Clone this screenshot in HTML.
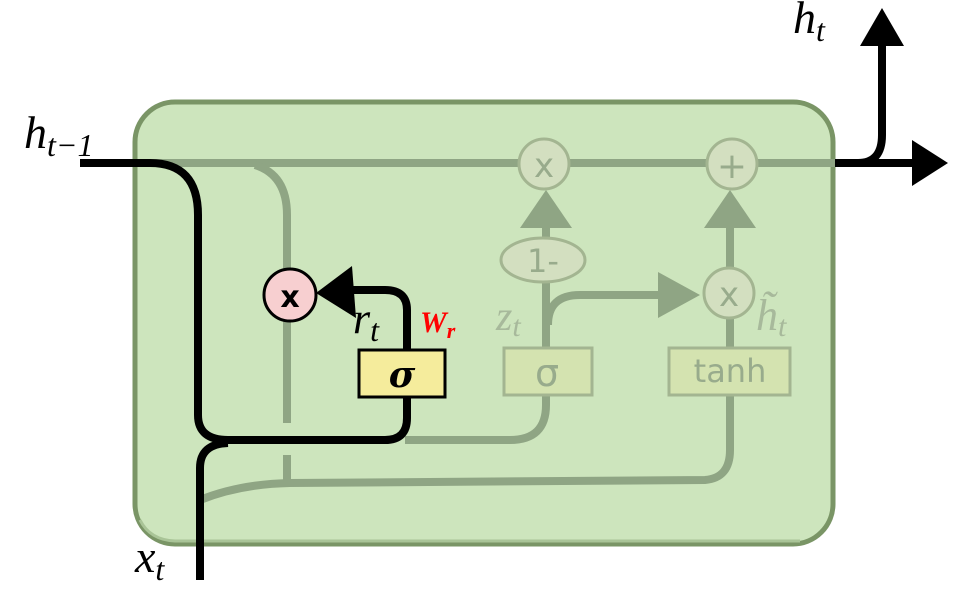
<!DOCTYPE html>
<html><head><meta charset="utf-8"><style>
html,body{margin:0;padding:0;background:#fff;width:968px;height:602px;overflow:hidden}
svg{display:block}
.m{font-family:"Liberation Serif",serif;font-style:italic}
</style></head><body>
<svg width="968" height="602" viewBox="0 0 968 602" xmlns="http://www.w3.org/2000/svg">
<rect x="135" y="102" width="698" height="442" rx="40" fill="#cde5bd" stroke="#7a9566" stroke-width="5"/>
<path d="M140 520 Q150 540 175 541 L800 541" fill="none" stroke="#a9c497" stroke-width="3"/>
<g fill="none" stroke="#8fa584" stroke-width="8">
<path d="M150 163 L835 163"/>
<path d="M255 165 Q287 175 287 215 L287 423"/>
<path d="M287 455 L287 482"/>
<path d="M200 500 Q240 484 290 483 L705 480 Q730 478 730 450 L730 396"/>
<path d="M405 440 L510 440 Q546 440 546 405 L546 396"/>
<path d="M546 347 L546 225"/>
<path d="M730 347 L730 225"/>
<path d="M548 325 Q548 295 580 295 L665 295"/>
</g>
<g fill="#8fa584">
<polygon points="520,228 572,228 546,190"/>
<polygon points="704,228 756,228 730,190"/>
<polygon points="658,272 658,318 700,295"/>
</g>
<g fill="#d3dfc0" stroke="#a3b591" stroke-width="3">
<circle cx="544" cy="164" r="25"/>
<circle cx="732" cy="164" r="25"/>
<circle cx="729" cy="293" r="25"/>
<ellipse cx="543" cy="260" rx="42" ry="22"/>
<rect x="504" y="348" width="88" height="47" fill="#d4e3b0"/>
<rect x="669" y="348" width="121" height="47" fill="#d4e3b0"/>
</g>
<g fill="#98ab8c" font-family="DejaVu Sans,sans-serif" text-anchor="middle">
<text x="544" y="177" font-size="34">x</text>
<text x="732" y="178" font-size="36">+</text>
<text x="729" y="306" font-size="34">x</text>
<text x="543" y="272" font-size="32">1-</text>
<text x="547" y="386" font-size="38">σ</text>
<text x="730" y="382" font-size="32">tanh</text>
</g>
<text class="m" x="496" y="330" font-size="42" fill="#a7b99b">z<tspan font-size="30" dy="6">t</tspan></text>
<text class="m" x="756" y="330" font-size="44" fill="#a7b99b">h̃<tspan font-size="30" dy="6">t</tspan></text>
<g fill="none" stroke="#000" stroke-width="8">
<path d="M80 163 L150 163 Q198 163 198 215 L198 415 Q198 440 228 440 L385 440 Q407 440 407 418 L407 397"/>
<path d="M200 580 L200 468 Q200 444 228 443"/>
<path d="M407 349 L407 310 Q407 290 385 290 L350 290"/>
<path d="M835 163 L915 163"/>
<path d="M858 163 Q882 163 882 135 L882 45"/>
</g>
<polygon points="316,293 352,266 356,318" fill="#000"/>
<polygon points="912,140 912,186 948,163" fill="#000"/>
<polygon points="860,46 904,46 882,8" fill="#000"/>
<circle cx="290" cy="295" r="26" fill="#f7cfd0" stroke="#000" stroke-width="3"/>
<text x="290" y="307" font-family="DejaVu Sans,sans-serif" font-weight="bold" font-size="30" text-anchor="middle">x</text>
<rect x="359" y="350" width="86" height="47" fill="#f5ec9c" stroke="#000" stroke-width="3"/>
<text x="402" y="387" font-family="DejaVu Serif,serif" font-style="italic" font-weight="bold" font-size="36" text-anchor="middle">σ</text>
<text class="m" x="353" y="333" font-size="44">r<tspan font-size="32" dy="8">t</tspan></text>
<text x="420" y="332" font-family="Liberation Serif,serif" font-style="italic" font-weight="bold" font-size="30" fill="#ff0000">W<tspan font-size="22" dy="6">r</tspan></text>
<text class="m" x="24" y="148" font-size="46">h<tspan font-size="32" dy="8">t−1</tspan></text>
<text class="m" x="793" y="33" font-size="46">h<tspan font-size="32" dy="8">t</tspan></text>
<text class="m" x="135" y="572" font-size="46">x<tspan font-size="32" dy="8">t</tspan></text>
</svg>
</body></html>
